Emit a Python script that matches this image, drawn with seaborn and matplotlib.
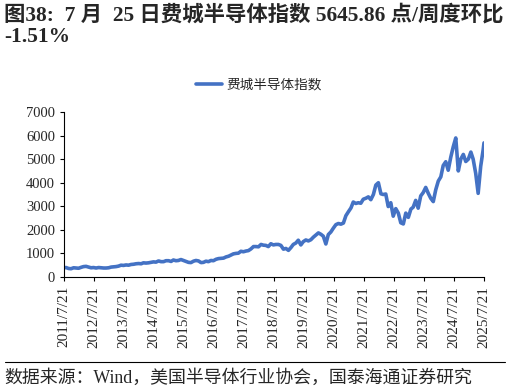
import numpy as np
import pandas as pd
import matplotlib.pyplot as plt
from matplotlib.lines import Line2D
import seaborn as sns

# monthly readings of the index (mid-month), 2011/7 - 2025/7
sox_values = [
    400, 360, 350, 390, 380, 370,
    410, 440, 450, 420, 390, 400, 380, 400, 390, 380, 380, 390,
    420, 430, 440, 460, 500, 490, 510, 500, 530, 540, 560, 570,
    560, 600, 590, 600, 620, 640, 630, 680, 650, 650, 690, 690,
    660, 720, 690, 700, 740, 700, 660, 620, 610, 670, 700, 680,
    610, 620, 670, 650, 700, 690, 750, 780, 790, 800, 850, 880,
    930, 980, 1000, 1010, 1090, 1070, 1100, 1120, 1190, 1290, 1290, 1280,
    1380, 1350, 1340, 1290, 1410, 1360, 1380, 1380, 1340, 1180, 1210, 1130,
    1250, 1380, 1440, 1560, 1360, 1500, 1570, 1530, 1580, 1690, 1780, 1870,
    1810, 1730, 1400, 1800, 1910, 2070, 2220, 2270, 2240, 2290, 2600, 2770,
    2930, 3180, 3120, 3150, 3130, 3300, 3340, 3400, 3280, 3500, 3900, 4000,
    3530, 3500, 3520, 2990, 3150, 2580, 2900, 2710, 2300, 2250, 2710, 2530,
    2880, 2960, 3250, 2920, 3440, 3580, 3800, 3550, 3340, 3200, 3700, 4070,
    4250, 4730, 4890, 4530, 5080, 5520, 5900, 4500, 5000, 5200, 4900, 5000,
    5300, 5000, 4400, 3550, 4700, 5400, 5690,
]
start_date = "2011-07-21"
end_date = "2025-07-25"
tick_labels = [f"{y}/7/21" for y in range(2011, 2026)]
series_name = "费城半导体指数"

dates = pd.date_range("2011-07-15", periods=len(sox_values), freq="MS") + pd.Timedelta(days=14)
dates = dates.insert(0, pd.Timestamp(start_date))
vals = [390] + sox_values
dates = dates[:-1].append(pd.DatetimeIndex([pd.Timestamp(end_date)]))
df = pd.DataFrame({"date": dates, "value": vals})

sns.set_style("white")
plt.rcParams["font.family"] = ["Liberation Serif", "Noto Sans CJK SC"]

fig = plt.figure(figsize=(5.1, 3.89), dpi=100)
ax = fig.add_axes([0.1255, 0.288, 0.8235, 0.424])
blue = "#4472C4"
sns.lineplot(data=df, x="date", y="value", ax=ax, color=blue, linewidth=2.6)

ax.set_ylim(0, 7000)
ax.set_yticks(range(0, 7001, 1000))
ax.set_xlim(pd.Timestamp(start_date), pd.Timestamp(end_date))
ticks = [pd.Timestamp(f"{y}-07-21") for y in range(2011, 2026)]
ax.set_xticks(ticks)
ax.set_xticklabels(tick_labels, rotation=90, fontsize=11)
ax.tick_params(axis="y", labelsize=10.5)
ax.tick_params(axis="both", direction="out", length=3, width=0.8, color="black", bottom=True, left=True)
ax.set_xlabel("")
ax.set_ylabel("")
for s in ["top", "right"]:
    ax.spines[s].set_visible(False)
for s in ["left", "bottom"]:
    ax.spines[s].set_color("black")
    ax.spines[s].set_linewidth(0.8)

handle = Line2D([], [], color=blue, linewidth=2.6)
fig.legend([handle], [series_name], loc="center", bbox_to_anchor=(0.508, 0.782),
           frameon=False, handlelength=1.9, handletextpad=0.35,
           prop={"family": ["Noto Sans CJK SC"], "size": 9.8})

fig.text(0.008, 0.962, "图38:  7 月  25 日费城半导体指数 5645.86 点/周度环比", fontsize=15.4,
         fontweight="bold", va="center", ha="left")
fig.text(0.008, 0.905, "-1.51%", fontsize=15.4, fontweight="bold", va="center", ha="left")
fig.add_artist(Line2D([0.01, 0.99], [0.069, 0.069], color="black", linewidth=0.8))
fig.text(0.008, 0.028, "数据来源：Wind，美国半导体行业协会，国泰海通证券研究", fontsize=12.9,
         va="center", ha="left")

fig.savefig("out.png", dpi=100)
